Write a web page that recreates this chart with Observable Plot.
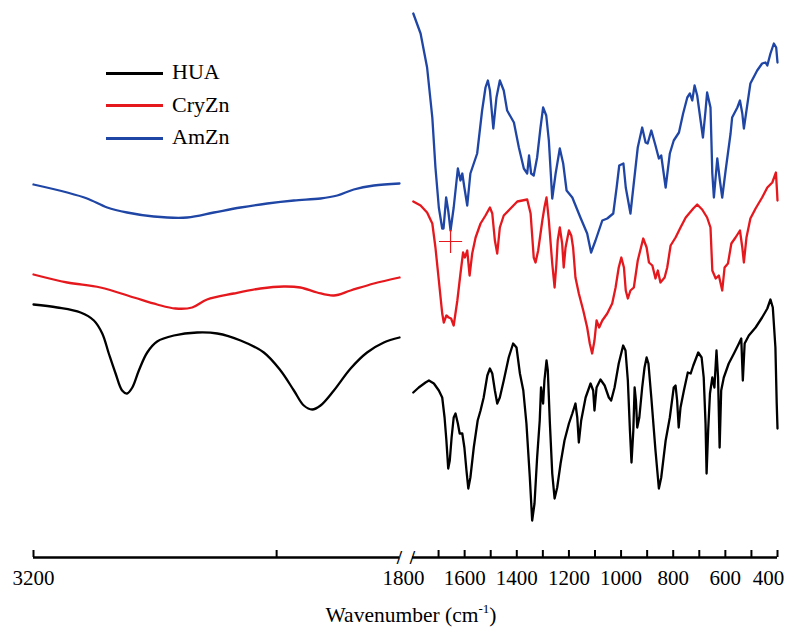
<!DOCTYPE html>
<html><head><meta charset="utf-8">
<script src="https://cdn.jsdelivr.net/npm/d3@7"></script>
<script src="https://cdn.jsdelivr.net/npm/@observablehq/plot@0.6"></script>
<style>
html,body{margin:0;padding:0;background:#fff;}
#chart{position:relative;width:788px;height:633px;overflow:hidden;background:#fff;font-family:'Liberation Serif',serif;}
#chart svg{position:absolute;top:0;left:0;}
#chart svg text{font-family:'Liberation Serif',serif;}
.lg-line{position:absolute;height:3px;width:57px;left:106px;}
.lg-text{position:absolute;left:172px;font-size:22px;line-height:26px;color:#000;font-family:'Liberation Serif',serif;}
.title{position:absolute;top:603px;left:411px;transform:translateX(-50%);font-size:21.5px;white-space:nowrap;color:#000;font-family:'Liberation Serif',serif;}
.title sup{font-size:13px;vertical-align:9px;line-height:0;}
</style></head>
<body><div id="chart"></div>
<script>
// Series
const seriesNames = ["HUA", "CryZn", "AmZn"];
const seriesColors = ["#000000", "#e5181e", "#1f45a5"];

// Axis ticks / labels
const leftTicks = [3200, 2270];
const rightTicks = [1700, 1600, 1500, 1400, 1300, 1200, 1100, 1000, 900, 800, 700, 600, 500, 400];
const leftLabels = [3200];
const rightMidLabels = [1600, 1400, 1200, 1000, 800, 600];
const rightEndLabels = [1800, 400];
const axisTitle = "Wavenumber (cm";

// Spectra: [wavenumber, transmittance (a.u., offset)]
const huaLeft = [[3200,253],[3109,250],[3020,245],[2969,237],[2937,224],[2912,204],[2886,184],[2861,167],[2842,164],[2822,170],[2797,187],[2765,205],[2727,216],[2663,222],[2574,225],[2497,224],[2408,217],[2319,205],[2255,187],[2204,167],[2166,152],[2134,148],[2102,152],[2051,167],[1987,189],[1924,205],[1860,215],[1800,220]];
const cryLeft = [[3200,283],[3071,275],[2944,270],[2816,260],[2727,253],[2657,249],[2593,250],[2536,258],[2434,264],[2332,269],[2243,271],[2179,270],[2115,265],[2051,262],[1987,267],[1898,274],[1800,280]];
const amLeft = [[3200,373],[3071,365],[2995,359],[2918,350],[2842,345],[2740,341],[2612,340],[2510,345],[2408,350],[2306,354],[2204,357],[2102,359],[2038,362],[1975,368],[1898,372],[1800,374]];

const huaRight = [[1797,165],[1776,170],[1750,175],[1737,177],[1718,174],[1699,167],[1686,160],[1677,140],[1670,117],[1663,89],[1657,97],[1650,120],[1642,140],[1635,144],[1626,134],[1619,124],[1609,124],[1601,110],[1593,87],[1586,69],[1578,80],[1565,110],[1550,137],[1539,147],[1527,160],[1513,182],[1503,189],[1494,184],[1484,167],[1475,154],[1465,160],[1450,177],[1431,200],[1414,214],[1401,210],[1388,184],[1375,167],[1363,134],[1350,80],[1341,37],[1332,54],[1322,100],[1312,137],[1307,170],[1299,154],[1294,177],[1286,197],[1281,187],[1273,134],[1264,84],[1255,59],[1245,70],[1232,94],[1217,117],[1200,134],[1187,144],[1175,154],[1168,140],[1162,115],[1153,137],[1136,160],[1117,174],[1107,167],[1102,147],[1094,170],[1079,178],[1063,172],[1047,160],[1038,157],[1025,170],[1009,194],[992,212],[983,207],[974,177],[966,127],[960,95],[953,127],[948,170],[943,157],[938,130],[930,140],[919,170],[910,190],[902,200],[895,194],[884,160],[868,107],[855,69],[846,80],[829,117],[813,140],[798,170],[791,172],[785,157],[779,130],[772,150],[759,167],[744,185],[733,184],[723,192],[704,205],[691,200],[683,180],[676,134],[672,84],[666,127],[659,164],[650,180],[642,170],[634,207],[628,180],[622,110],[616,167],[606,180],[587,194],[567,204],[548,214],[539,219],[533,177],[526,214],[510,222],[484,230],[459,240],[439,249],[427,258],[418,250],[408,210],[403,154],[400,129]];
const cryRight = [[1797,356],[1769,352],[1744,345],[1724,334],[1712,310],[1699,277],[1686,244],[1680,235],[1670,242],[1661,240],[1652,239],[1642,232],[1628,257],[1616,284],[1606,305],[1599,300],[1590,307],[1581,282],[1571,304],[1558,320],[1539,334],[1520,342],[1503,350],[1494,344],[1484,317],[1475,304],[1465,330],[1450,342],[1424,349],[1398,356],[1360,358],[1347,344],[1335,300],[1328,295],[1318,307],[1302,337],[1294,350],[1286,360],[1277,337],[1264,294],[1255,270],[1248,294],[1243,317],[1235,330],[1226,314],[1220,290],[1213,310],[1200,327],[1191,322],[1184,310],[1175,280],[1162,264],[1145,247],[1130,230],[1120,214],[1111,204],[1102,217],[1094,237],[1084,230],[1072,237],[1053,244],[1034,254],[1021,270],[1009,290],[999,300],[989,290],[982,267],[974,259],[964,267],[951,270],[936,297],[915,319],[902,310],[893,295],[880,292],[868,279],[859,287],[849,275],[833,280],[823,290],[810,312],[791,320],[772,330],[752,340],[736,345],[723,349],[708,353],[689,348],[670,340],[657,330],[650,287],[637,279],[625,282],[612,267],[603,290],[590,294],[577,314],[561,320],[544,327],[535,310],[529,295],[519,320],[504,339],[484,349],[459,360],[439,370],[420,375],[406,385],[402,367],[400,357]];
const amRight = [[1797,544],[1769,524],[1744,490],[1724,440],[1712,390],[1699,350],[1686,329],[1681,329],[1671,360],[1663,347],[1654,327],[1642,350],[1626,389],[1616,377],[1609,384],[1601,370],[1590,352],[1578,384],[1552,404],[1533,447],[1520,470],[1511,477],[1503,467],[1490,429],[1478,460],[1465,477],[1450,467],[1437,447],[1411,435],[1392,410],[1373,389],[1360,384],[1353,402],[1345,384],[1335,382],[1322,400],[1309,430],[1299,450],[1287,442],[1277,417],[1264,359],[1251,384],[1235,409],[1222,394],[1209,367],[1187,360],[1156,340],[1130,324],[1115,305],[1098,317],[1072,337],[1053,339],[1030,344],[1017,370],[1007,392],[991,394],[982,370],[964,344],[953,370],[936,410],[919,430],[906,415],[898,414],[884,427],[868,412],[855,399],[846,402],[829,370],[813,404],[798,417],[778,425],[762,444],[746,460],[736,464],[727,457],[718,472],[708,462],[695,437],[686,420],[676,447],[670,465],[657,450],[650,384],[644,360],[631,399],[621,377],[612,360],[599,387],[580,424],[574,440],[554,450],[544,457],[535,444],[529,429],[519,447],[504,474],[478,487],[459,494],[446,495],[439,492],[427,504],[414,514],[405,510],[400,495]];

// marker on AmZn minimum (cursor cross in the original)
const crossPoint = [[1654, 327]];

const toRows = (arr, series) => arr.map(([wn, t]) => ({series, wn, t}));
const leftRows = [...toRows(huaLeft, "HUA"), ...toRows(cryLeft, "CryZn"), ...toRows(amLeft, "AmZn")];
const rightRows = [...toRows(huaRight, "HUA"), ...toRows(cryRight, "CryZn"), ...toRows(amRight, "AmZn")];

const serif = "Liberation Serif";
const common = {
  height: 590, marginTop: 0, marginBottom: 33,
  y: {domain: [0, 557], axis: null},
  color: {domain: seriesNames, range: seriesColors},
  style: {background: "transparent", overflow: "visible"}
};
const font = {fontFamily: serif, fontSize: 21, fill: "#000"};

const leftPlot = Plot.plot({
  ...common,
  width: 420, marginLeft: 33, marginRight: 21,
  x: {domain: [3200, 1800], axis: null},
  marks: [
    Plot.ruleY([0], {stroke: "#000", strokeWidth: 2.5}),
    Plot.ruleX(leftTicks, {x: d => d, y1: 0, y2: 7, stroke: "#000", strokeWidth: 2}),
    Plot.line(leftRows, {x: "wn", y: "t", stroke: "series", strokeWidth: 2.3, curve: "catmull-rom"}),
    Plot.text(leftLabels, {x: d => d, y: 0, dy: 21, text: d => String(d), ...font}),
    Plot.text(["/"], {x: 1800, y: 0, text: d => d, fontSize: 19, fontWeight: "bold", fill: "#000", fontFamily: serif})
  ]
});

const rightPlot = Plot.plot({
  ...common,
  width: 788, marginLeft: 412, marginRight: 11,
  x: {domain: [1800, 400], axis: null},
  marks: [
    Plot.ruleY([0], {stroke: "#000", strokeWidth: 2.5}),
    Plot.ruleX(rightTicks, {x: d => d, y1: 0, y2: 7, stroke: "#000", strokeWidth: 2}),
    Plot.line(rightRows, {x: "wn", y: "t", stroke: "series", strokeWidth: 2.3}),
    Plot.dot(crossPoint, {x: d => d[0], y: d => d[1], dy: 11, symbol: "plus", r: 7.5, stroke: "#e5181e", strokeWidth: 1.2}),
    Plot.text(rightMidLabels, {x: d => d, y: 0, dy: 21, text: d => String(d), ...font}),
    Plot.text(rightEndLabels, {x: d => d, y: 0, dy: 21, dx: -9, text: d => String(d), ...font}),
    Plot.text(["/"], {x: 1800, y: 0, text: d => d, fontSize: 19, fontWeight: "bold", fill: "#000", fontFamily: serif})
  ]
});

const chart = document.getElementById("chart");
chart.appendChild(leftPlot);
chart.appendChild(rightPlot);

// Legend
seriesNames.forEach((name, i) => {
  const cy = 73 + i * 32.5;
  const ln = document.createElement("div");
  ln.className = "lg-line";
  ln.style.top = (cy - 1.5) + "px";
  ln.style.background = seriesColors[i];
  chart.appendChild(ln);
  const tx = document.createElement("div");
  tx.className = "lg-text";
  tx.style.top = (cy - 14) + "px";
  tx.textContent = name;
  chart.appendChild(tx);
});

// Axis title
const title = document.createElement("div");
title.className = "title";
title.innerHTML = axisTitle + "<sup>-1</sup>)";
chart.appendChild(title);
</script>
</body></html>
